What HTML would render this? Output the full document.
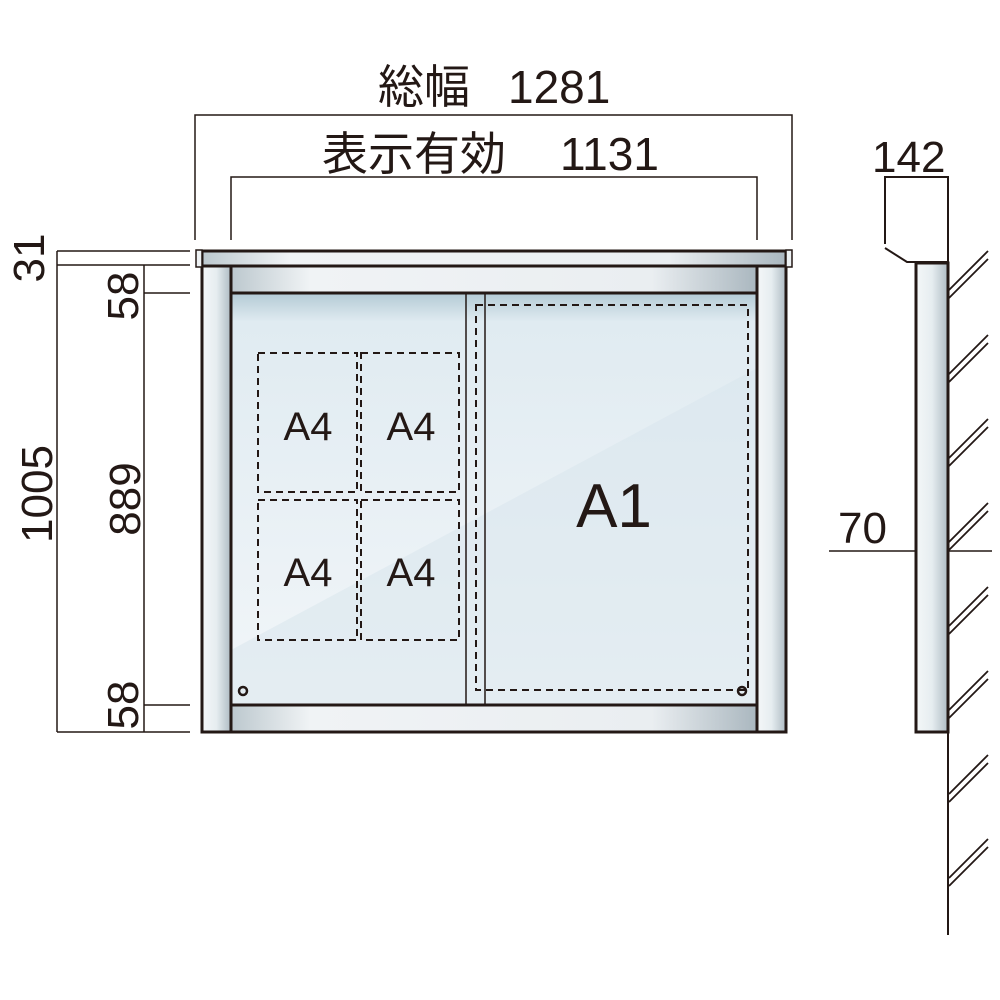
<!DOCTYPE html>
<html><head><meta charset="utf-8"><style>body{margin:0;background:#fff}svg{display:block}</style></head><body>
<svg width="1000" height="1000" viewBox="0 0 1000 1000" xmlns="http://www.w3.org/2000/svg" font-family="Liberation Sans, Noto Sans CJK JP, sans-serif">
<defs>
<linearGradient id="post" x1="0" x2="1" y1="0" y2="0"><stop offset="0" stop-color="#f4f7f8"/><stop offset="0.5" stop-color="#e6edf0"/><stop offset="1" stop-color="#aebbc3"/></linearGradient>
<linearGradient id="band" x1="0" x2="1"><stop offset="0" stop-color="#bcc8ce"/><stop offset="0.15" stop-color="#f0f3f5"/><stop offset="0.8" stop-color="#eaeef1"/><stop offset="1" stop-color="#aab7bf"/></linearGradient>
<linearGradient id="glass" x1="0" x2="0" y1="0" y2="1"><stop offset="0" stop-color="#b3cad5"/><stop offset="0.07" stop-color="#e0ebf1"/><stop offset="1" stop-color="#f2f6f9"/></linearGradient>
</defs>
<g stroke="#231815" fill="none" stroke-width="1.5">
<polyline points="195,240 195,115 792,115 792,240"/>
<polyline points="231,240 231,177 757,177 757,240"/>
<line x1="57" y1="251" x2="190" y2="251"/><line x1="57" y1="265" x2="190" y2="265"/>
<line x1="57" y1="251" x2="57" y2="732"/><line x1="57" y1="732" x2="190" y2="732"/>
<line x1="144" y1="265" x2="144" y2="732"/>
<line x1="144" y1="293" x2="190" y2="293"/><line x1="144" y1="705" x2="190" y2="705"/>
</g>
<g font-size="46" fill="#231815">
<text x="378" y="103">総幅</text><text x="508" y="103">1281</text>
<text x="322" y="170">表示有効</text><text x="560" y="170">1131</text>
<text x="872" y="172" font-size="44">142</text>
<text x="838" y="543" font-size="44">70</text>
<text transform="translate(44,258) rotate(-90)" text-anchor="middle" font-size="44">31</text>
<text transform="translate(138,296) rotate(-90)" text-anchor="middle" font-size="44">58</text>
<text transform="translate(52,494) rotate(-90)" text-anchor="middle" font-size="44">1005</text>
<text transform="translate(140,499) rotate(-90)" text-anchor="middle" font-size="44">889</text>
<text transform="translate(138,705) rotate(-90)" text-anchor="middle" font-size="44">58</text>
</g>
<rect x="231" y="293" width="526" height="412" fill="url(#glass)"/>
<polygon points="231,650 757,368 757,705 231,705" fill="#d9e5ec" opacity="0.55"/>
<rect x="231" y="266" width="526" height="27" fill="url(#band)" stroke="#231815" stroke-width="3"/>
<rect x="231" y="705" width="526" height="27" fill="url(#band)" stroke="#231815" stroke-width="3"/>
<rect x="202" y="266" width="29" height="466" fill="url(#post)" stroke="#231815" stroke-width="3"/>
<rect x="757" y="266" width="29" height="466" fill="url(#post)" stroke="#231815" stroke-width="3"/>
<rect x="202" y="251" width="584" height="15" fill="url(#band)" stroke="#231815" stroke-width="3"/>
<rect x="196" y="250" width="6" height="17" fill="#eef2f4" stroke="#231815" stroke-width="1.5"/>
<rect x="786" y="250" width="6" height="17" fill="#eef2f4" stroke="#231815" stroke-width="1.5"/>
<line x1="466" y1="293" x2="466" y2="705" stroke="#231815" stroke-width="1.5"/>
<line x1="485" y1="293" x2="485" y2="705" stroke="#231815" stroke-width="1.5"/>
<g stroke="#231815" fill="none" stroke-width="2" stroke-dasharray="7,5">
<rect x="258" y="353" width="99" height="139"/><rect x="361" y="353" width="98" height="139"/>
<rect x="258" y="500" width="99" height="140"/><rect x="361" y="500" width="98" height="140"/>
<rect x="476" y="305" width="272" height="385"/>
</g>
<circle cx="243" cy="691" r="4" fill="none" stroke="#231815" stroke-width="2.5"/>
<circle cx="742" cy="691" r="4" fill="none" stroke="#231815" stroke-width="2.5"/>
<g font-size="40" fill="#231815" text-anchor="middle">
<text x="308" y="440">A4</text><text x="411" y="440">A4</text>
<text x="308" y="586">A4</text><text x="411" y="586">A4</text>
<text x="614" y="527" font-size="62">A1</text>
</g>
<g stroke="#231815" fill="none" stroke-width="2">
<polyline points="885,244 885,177 948,177 948,262"/>
<polyline points="885,248 907,262 948,262"/>
<line x1="829" y1="551" x2="992" y2="551" stroke-width="1.5"/>
</g>
<rect x="916" y="263" width="32" height="469" fill="url(#post)" stroke="#231815" stroke-width="3"/>
<line x1="948" y1="250" x2="948" y2="935" stroke="#231815" stroke-width="2"/>
<g stroke="#231815" stroke-width="1.8">
<line x1="949" y1="290" x2="988" y2="251"/><line x1="949" y1="298" x2="988" y2="259"/>
<line x1="949" y1="374" x2="988" y2="335"/><line x1="949" y1="382" x2="988" y2="343"/>
<line x1="949" y1="458" x2="988" y2="419"/><line x1="949" y1="466" x2="988" y2="427"/>
<line x1="949" y1="542" x2="988" y2="503"/><line x1="949" y1="550" x2="988" y2="511"/>
<line x1="949" y1="626" x2="988" y2="587"/><line x1="949" y1="634" x2="988" y2="595"/>
<line x1="949" y1="710" x2="988" y2="671"/><line x1="949" y1="718" x2="988" y2="679"/>
<line x1="949" y1="794" x2="988" y2="755"/><line x1="949" y1="802" x2="988" y2="763"/>
<line x1="949" y1="878" x2="988" y2="839"/><line x1="949" y1="886" x2="988" y2="847"/>
</g>
</svg>
</body></html>
